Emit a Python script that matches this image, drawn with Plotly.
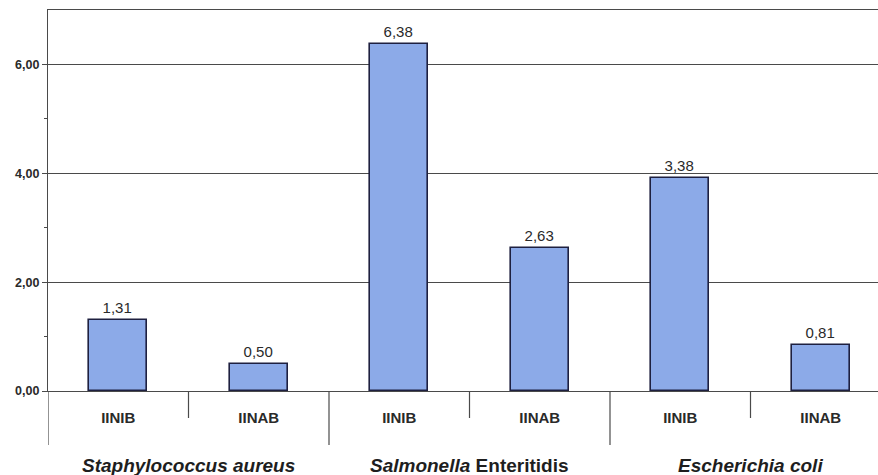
import plotly.graph_objects as go

# ---- data ----
groups = ["<i>Staphylococcus aureus</i>", "<i>Salmonella</i> Enteritidis", "<i>Escherichia coli</i>"]
categories = ["IINIB", "IINAB", "IINIB", "IINAB", "IINIB", "IINAB"]
values = [1.31, 0.50, 6.38, 2.63, 3.92, 0.85]          # bar heights as drawn
value_labels = ["1,31", "0,50", "6,38", "2,63", "3,38", "0,81"]  # printed labels
y_tick_vals = [0, 2, 4, 6]
y_tick_labels = ["0,00", "2,00", "4,00", "6,00"]

FONT = "Liberation Sans, Arial, sans-serif"
LINE = "#4a4a4a"

x_pos = list(range(len(categories)))

fig = go.Figure()
fig.add_trace(go.Bar(
    x=x_pos, y=values, width=0.41,
    marker=dict(color="#8caae8", line=dict(color="#1e2040", width=1.6)),
    text=value_labels, textposition="outside", cliponaxis=False,
    textfont=dict(family=FONT, size=15, color="#2a2a2a"),
    hoverinfo="skip",
))

n_per_group = 2
fig.update_layout(
    width=878, height=475,
    margin=dict(l=48, r=0, t=10, b=84),
    paper_bgcolor="white", plot_bgcolor="white",
    showlegend=False,
    bargap=0,
    xaxis=dict(
        range=[-0.5, -0.5 + 830 / 140.5],
        tickvals=x_pos, ticktext=categories,
        ticks="", ticklabelstandoff=13,
        tickfont=dict(family=FONT, size=15, color="#2a2a2a", weight="bold"),
        showgrid=False, zeroline=False,
        showline=True, mirror=True, linecolor=LINE, linewidth=1.2,
    ),
    yaxis=dict(
        range=[0, 7],
        tickvals=y_tick_vals, ticktext=y_tick_labels,
        ticks="outside", ticklen=5, tickcolor=LINE,
        minor=dict(tickvals=[1, 3, 5], ticks="outside", ticklen=3, tickcolor=LINE),
        tickfont=dict(family=FONT, size=12.5, color="#2a2a2a", weight="bold"),
        showgrid=True, gridcolor=LINE, gridwidth=1.1,
        zeroline=False,
        showline=True, linecolor=LINE, linewidth=1.2,
    ),
)

# separators under the axis
plot_h = 475 - 10 - 84
short_len = 27 / plot_h
long_len = 54 / plot_h
for i in range(len(categories) - 1):
    b = i + 0.5
    is_group = (i + 1) % n_per_group == 0
    fig.add_shape(type="line", xref="x", yref="paper", x0=b, x1=b,
                  y0=0, y1=-(long_len if is_group else short_len),
                  line=dict(color=LINE, width=1.2))
fig.add_shape(type="line", xref="x", yref="paper", x0=-0.5, x1=-0.5,
              y0=0, y1=-long_len, line=dict(color=LINE, width=1.2))

# group labels
for g, name in enumerate(groups):
    center = g * n_per_group + (n_per_group - 1) / 2
    fig.add_annotation(x=center, xref="x", y=-74 / plot_h, yref="paper",
                       text="<b>" + name + "</b>", showarrow=False,
                       yanchor="middle", xanchor="center",
                       font=dict(family=FONT, size=19, color="#1e1e1e"))

fig.write_html("out.html")
